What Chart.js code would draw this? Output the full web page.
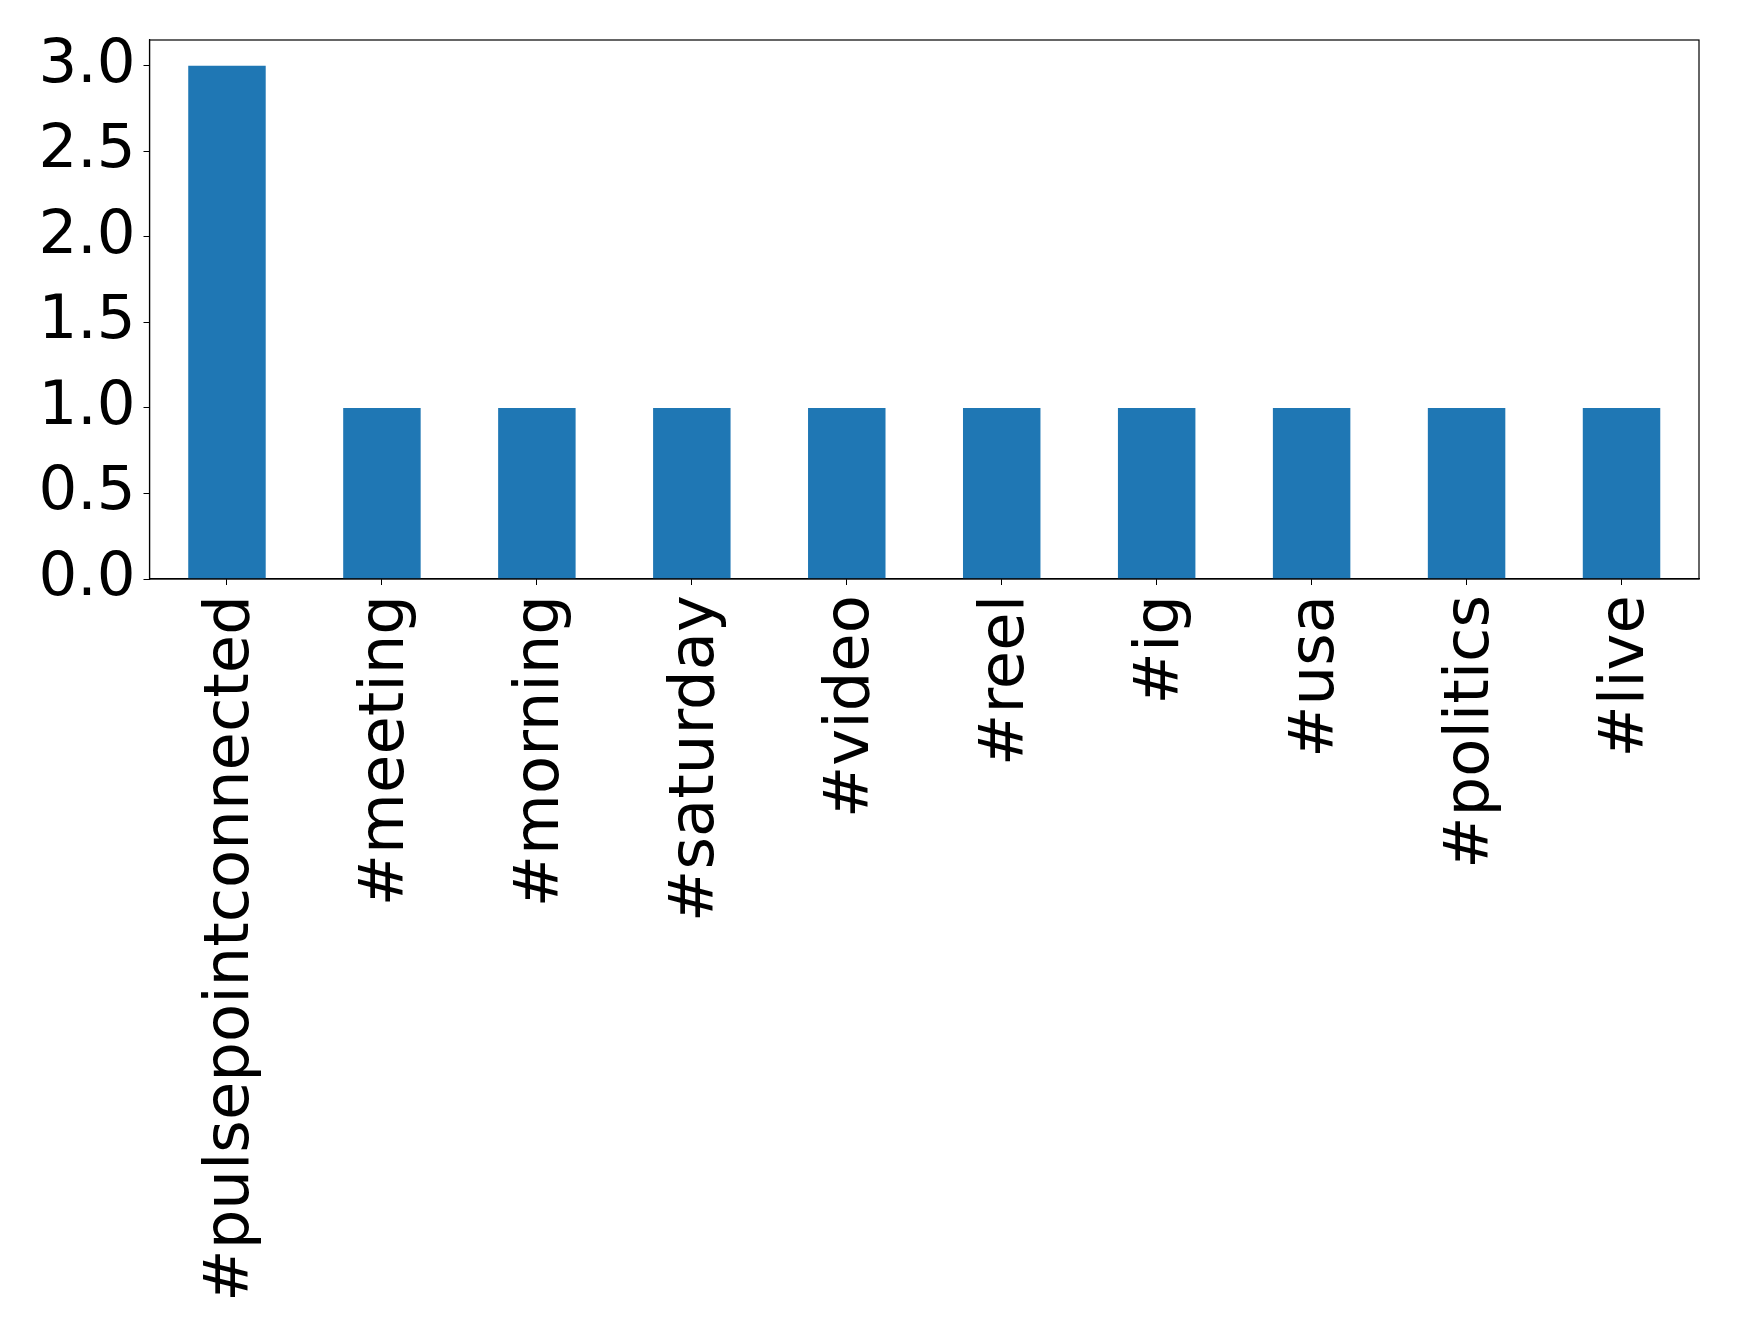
<!DOCTYPE html>
<html>
<head>
<meta charset="utf-8">
<script src="https://cdn.jsdelivr.net/npm/chart.js@4/dist/chart.umd.min.js"></script>
<style>
  html, body { margin: 0; padding: 0; background: #fff; }
  #wrap { width: 1739px; height: 1335px; }
</style>
</head>
<body>
<div id="wrap"><canvas id="chart"></canvas></div>
<script>
// hashtag counts
const tags = ['#pulsepointconnected', '#meeting', '#morning', '#saturday', '#video',
  '#reel', '#ig', '#usa', '#politics', '#live'];
const counts = [3, 1, 1, 1, 1, 1, 1, 1, 1, 1];
const yTicks = [0, 0.5, 1, 1.5, 2, 2.5, 3];

Chart.defaults.font.family = 'DejaVu Sans';
Chart.defaults.color = '#000';

// top and right edges of the axes box
const frame = {
  id: 'frame',
  afterDraw(chart) {
    const { ctx, chartArea: a } = chart;
    ctx.save();
    ctx.strokeStyle = '#000';
    ctx.lineWidth = 1.2;
    ctx.strokeRect(a.left, a.top, a.right - a.left, a.bottom - a.top);
    ctx.restore();
  }
};

new Chart(document.getElementById('chart'), {
  type: 'bar',
  data: {
    labels: tags,
    datasets: [{
      data: counts,
      backgroundColor: '#1f77b4',
      barPercentage: 0.5,
      categoryPercentage: 1
    }]
  },
  options: {
    responsive: true,
    maintainAspectRatio: false,
    animation: false,
    layout: { padding: { top: 40, right: 40, left: 0, bottom: 0 } },
    plugins: { legend: { display: false }, tooltip: { enabled: false } },
    scales: {
      x: {
        offset: true,
        grid: { display: true, drawOnChartArea: false, tickLength: 6, color: '#000', offset: false },
        border: { color: '#000', width: 1.2 },
        ticks: { font: { size: 62.5 }, maxRotation: 90, minRotation: 90, padding: 10, labelOffset: 5, autoSkip: false },
        afterFit(s) { s.height = 756; s.paddingLeft = 0; s.paddingRight = 0; }
      },
      y: {
        min: 0,
        max: 3.15,
        afterBuildTicks(s) { s.ticks = yTicks.map(v => ({ value: v })); },
        grid: { display: true, drawOnChartArea: false, tickLength: 6, color: '#000' },
        border: { color: '#000', width: 1.2 },
        ticks: { font: { size: 61 }, padding: 8, callback: v => v.toFixed(1) },
        afterFit(s) { s.width = 149.5; s.paddingTop = 0; s.paddingBottom = 0; }
      }
    }
  },
  plugins: [frame]
});
</script>
</body>
</html>
